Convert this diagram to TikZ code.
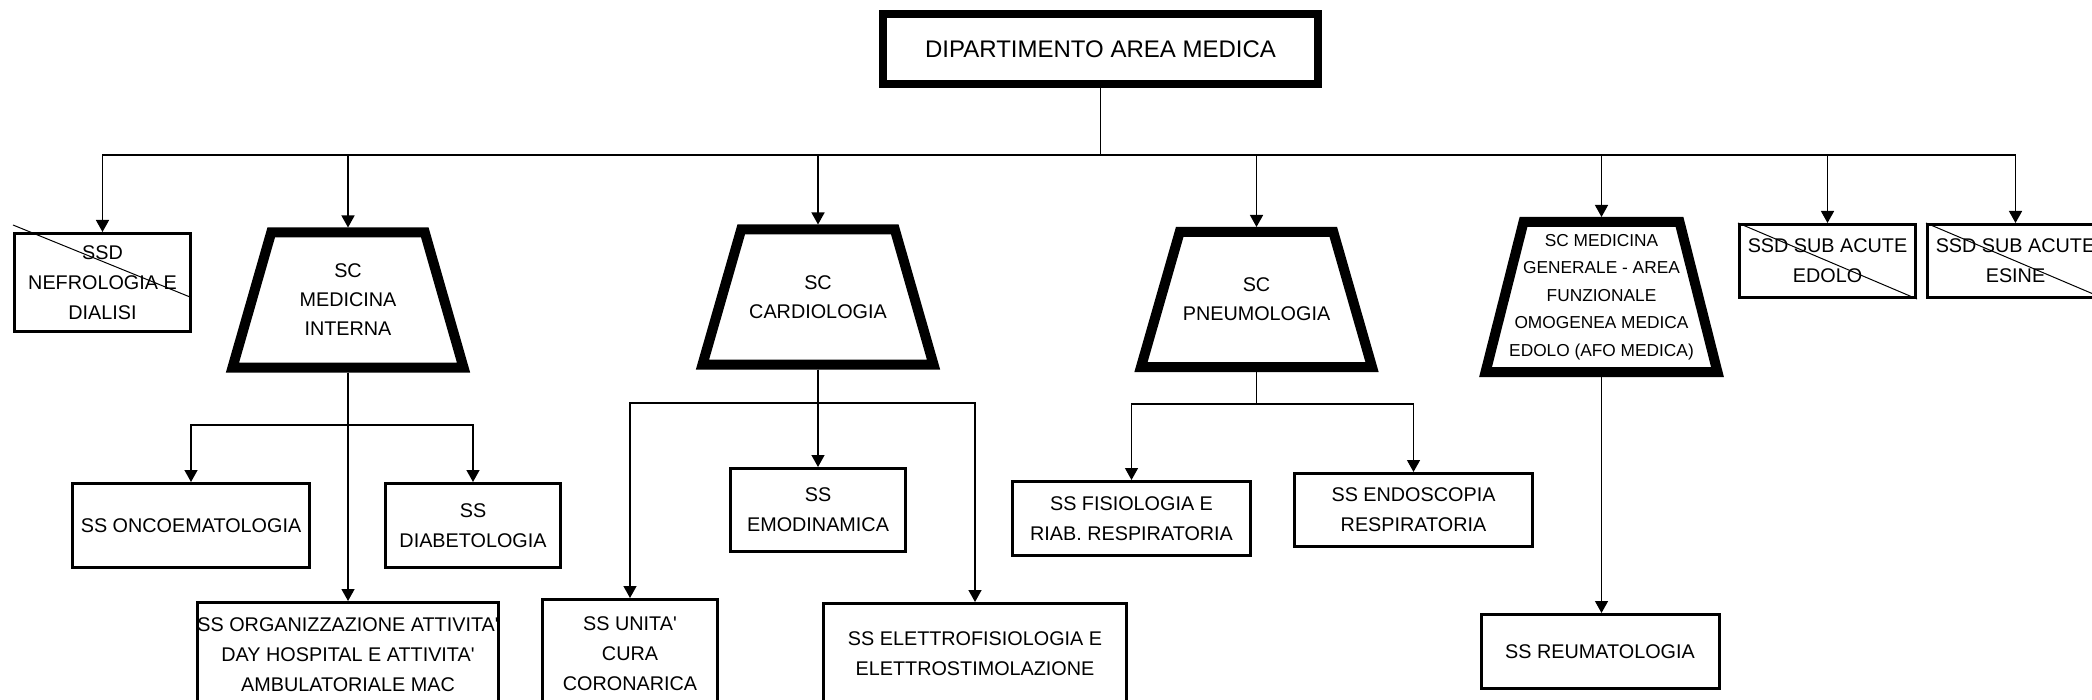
\documentclass[tikz,border=0pt]{standalone}
\usepackage{fontspec}
\setmainfont{Liberation Sans}
\usetikzlibrary{shapes.geometric,arrows.meta,calc}
\tikzset{
  unit/.style={draw,line width=3pt,inner sep=0pt,align=center,
    font=\fontsize{19.8}{30}\selectfont},
  sctrap/.style={trapezium,draw,line width=10pt,inner sep=0pt,
    trapezium angle=74,font=\fontsize{19.8}{29}\selectfont},
  link/.style={line width=1.4pt,-{Triangle[width=13pt,length=12pt]}},
  strike/.style={line width=1pt},
}
\newcommand\Drop[3]{\draw[link] (#1) -- (#1 |- #2) -| (#3)}
\newcommand\SCtext[3]{\makebox[#1]{\parbox[c][#2][c]{230pt}{\centering#3}}}
\newcommand\apo{\textquotesingle}

\begin{document}
\begin{tikzpicture}[x=1pt,y=-1pt]
\path[use as bounding box,fill=white] (0,0) rectangle (2092,700);
\clip (0,0) rectangle (2092,700);
% department
\node[unit,line width=8pt,minimum width=435pt,minimum height=70pt,
  font=\fontsize{24}{30}\selectfont] (dip) at (1100.5,49) {DIPARTIMENTO AREA MEDICA};
\coordinate (bus) at (0,155);
\coordinate (mibus) at (0,425);
\coordinate (cabus) at (0,403);
\coordinate (pnbus) at (0,404);

% first level
\node[unit,minimum width=176pt,minimum height=98pt] (nef) at (102.5,282.5) {SSD\\NEFROLOGIA E\\DIALISI};
\node[sctrap] (medint) at (348,300) {\SCtext{153.6pt}{135pt}{SC\\MEDICINA\\INTERNA}};
\node[sctrap] (card) at (818,297) {\SCtext{153.6pt}{135pt}{SC\\CARDIOLOGIA}};
\node[sctrap] (pneu) at (1256.5,299.5) {\SCtext{153.6pt}{135pt}{SC\\PNEUMOLOGIA}};
\node[sctrap,trapezium angle=75.8,font=\fontsize{17.3}{27.5}\selectfont] (medgen) at (1601.5,297)
  {\SCtext{156pt}{150pt}{SC MEDICINA\\GENERALE - AREA\\FUNZIONALE\\OMOGENEA MEDICA\\EDOLO (AFO MEDICA)}};
\node[unit,minimum width=176pt,minimum height=73pt] (edolo) at (1827.5,261) {SSD SUB ACUTE\\EDOLO};
\node[unit,minimum width=176pt,minimum height=73pt] (esine) at (2015.5,261) {SSD SUB ACUTE\\ESINE};

% second level
\node[unit,minimum width=237pt,minimum height=84pt] (onco) at (191,525.5) {SS ONCOEMATOLOGIA};
\node[unit,minimum width=175pt,minimum height=84pt] (diab) at (473,525.5) {SS\\DIABETOLOGIA};
\node[unit,minimum width=300pt,minimum height=105pt] (org) at (348,655)
  {SS ORGANIZZAZIONE ATTIVITA\apo\\DAY HOSPITAL E ATTIVITA\apo\\AMBULATORIALE MAC};
\node[unit,minimum width=175pt,minimum height=109pt] (unita) at (630,654) {SS UNITA\apo\\CURA\\CORONARICA};
\node[unit,minimum width=175pt,minimum height=83pt] (emod) at (818,510) {SS\\EMODINAMICA};
\node[unit,minimum width=303pt,minimum height=101pt] (elettro) at (975,654) {SS ELETTROFISIOLOGIA E\\ELETTROSTIMOLAZIONE};
\node[unit,minimum width=238pt,minimum height=74pt] (fisio) at (1131.5,518.5) {SS FISIOLOGIA E\\RIAB. RESPIRATORIA};
\node[unit,minimum width=238pt,minimum height=73pt] (endo) at (1413.5,510) {SS ENDOSCOPIA\\RESPIRATORIA};
\node[unit,minimum width=238pt,minimum height=74pt] (reu) at (1600,651.5) {SS REUMATOLOGIA};

% connectors
\foreach \u in {nef,medint,card,pneu,medgen,edolo,esine} {\Drop{dip.south}{bus}{\u.north};}
\foreach \u in {onco,diab} {\Drop{medint.south}{mibus}{\u.north};}
\draw[link] (medint.south) -- (medint.south |- org.north);
\foreach \u in {unita,emod,elettro} {\Drop{card.south}{cabus}{\u.north};}
\foreach \u in {fisio,endo} {\Drop{pneu.south}{pnbus}{\u.north};}
\draw[link] (medgen.south) -- (medgen.south |- reu.north);

% struck out units
\draw[strike] ($(nef.north west)+(0,-7)$) -- ($(nef.east)+(-2,14.5)$);
\draw[strike] (edolo.north west) -- (edolo.south east);
\draw[strike] (esine.north west) -- (esine.south east);
\end{tikzpicture}
\end{document}
